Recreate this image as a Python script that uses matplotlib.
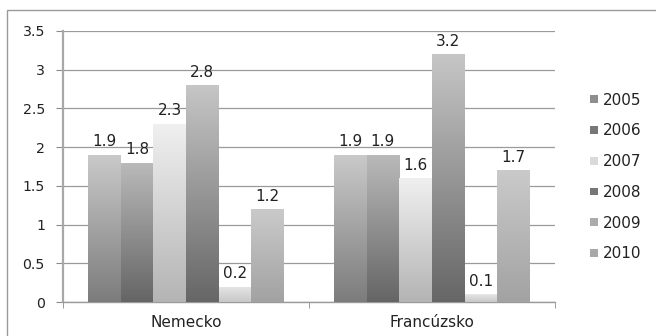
import numpy as np
import matplotlib
matplotlib.use('Agg')
import matplotlib.pyplot as plt
from matplotlib.colors import LinearSegmentedColormap
from matplotlib.patches import Patch, Rectangle

countries = ['Nemecko', 'Francúzsko']
years = ['2005', '2006', '2007', '2008', '2009', '2010']
values = {
    '2005': [1.9, 1.9],
    '2006': [1.8, 1.9],
    '2007': [2.3, 1.6],
    '2008': [2.8, 3.2],
    '2009': [0.2, 0.1],
    '2010': [1.2, 1.7],
}

# bottom / top shades of the gradient fill, and flat legend swatch colour
shades = {
    '2005': ('#7c7c7c', '#cacaca', '#8e8e8e'),
    '2006': ('#656565', '#bababa', '#777777'),
    '2007': ('#b4b4b4', '#f0f0f0', '#dadada'),
    '2008': ('#666666', '#c6c6c6', '#777777'),
    '2009': ('#c8c8c8', '#e6e6e6', '#ababab'),
    '2010': ('#a2a2a2', '#cacaca', '#a8a8a8'),
}

plt.rcParams['font.family'] = 'DejaVu Sans'
plt.rcParams['font.size'] = 10.2

fig = plt.figure(figsize=(6.56, 3.36), dpi=100)
ax = fig.add_axes([0.096, 0.101, 0.75, 0.807])

# outer chart frame (runs off the right and bottom edges)
fig.patches.append(Rectangle((7 / 656, -0.1), 1.2, 1 - 10 / 336 + 0.1,
                             transform=fig.transFigure, fill=False,
                             edgecolor='#9a9a9a', linewidth=1.0))

x = np.arange(len(countries))
width = 0.133
grad = np.linspace(0, 1, 256).reshape(-1, 1)

for i, year in enumerate(years):
    lo, hi, _ = shades[year]
    cmap = LinearSegmentedColormap.from_list(year, [lo, hi])
    pos = x + (i - 2.5) * width
    bars = ax.bar(pos, values[year], width, color='none', edgecolor='none', zorder=3)
    for rect, v in zip(bars, values[year]):
        x0 = rect.get_x()
        im = ax.imshow(grad, cmap=cmap, origin='lower', aspect='auto',
                       extent=(x0, x0 + width, 0, v), zorder=3,
                       interpolation='bilinear')
        im.set_clip_path(rect)
        ax.annotate(f'{v}', (x0 + width / 2, v), xytext=(0, 4),
                    textcoords='offset points', ha='center', va='bottom',
                    color='#222222', fontsize=11, zorder=4)

ax.set_xlim(-0.5, 1.5)
ax.set_ylim(0, 3.5)
ax.set_yticks(np.arange(0, 3.51, 0.5))
ax.set_yticklabels(['0', '0.5', '1', '1.5', '2', '2.5', '3', '3.5'])
ax.set_xticks(x)
ax.set_xticklabels(countries, fontsize=11)
ax.set_xticks([-0.5, 0.5, 1.5], minor=True)
ax.tick_params(axis='x', which='major', length=0, pad=9, colors='#222222')
ax.tick_params(axis='x', which='minor', length=4, color='#8a8a8a')
ax.tick_params(axis='y', length=5, pad=8, color='#8a8a8a', labelcolor='#222222')
ax.yaxis.grid(True, color='#9a9a9a', linewidth=0.9, zorder=0)
ax.set_axisbelow(True)

for side in ['top', 'right']:
    ax.spines[side].set_visible(False)
ax.spines['left'].set_color('#a8a8a8')
ax.spines['left'].set_linewidth(1.6)
ax.spines['bottom'].set_color('#9a9a9a')
ax.spines['bottom'].set_linewidth(1.0)

handles = [Patch(facecolor=shades[y][2], edgecolor='none') for y in years]
ax.legend(handles, years, loc='center left', bbox_to_anchor=(1.071, 0.461),
          frameon=False, borderpad=0, borderaxespad=0,
          handlelength=0.52, handleheight=0.4, handletextpad=0.33,
          labelspacing=1.03, fontsize=11, labelcolor='#222222')

fig.savefig('out.png', dpi=100)
